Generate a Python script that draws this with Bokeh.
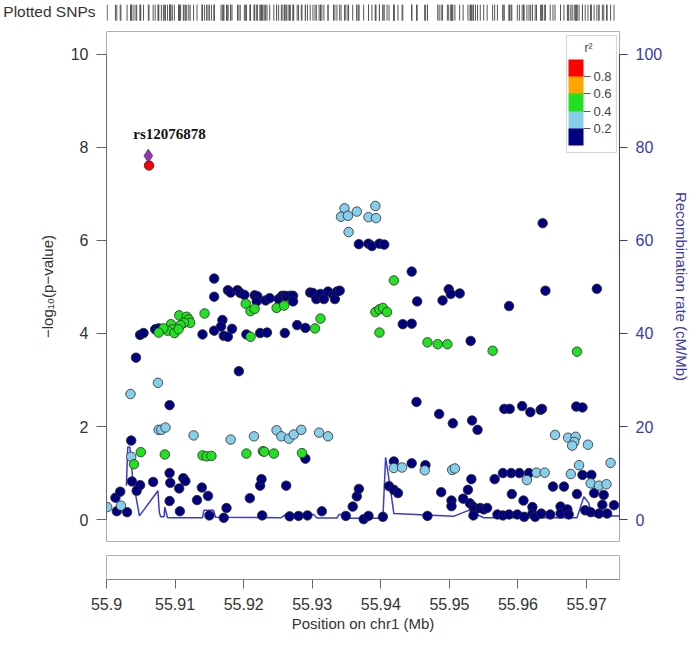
from bokeh.plotting import figure
from bokeh.layouts import column
from bokeh.models import (Range1d, LinearAxis, FixedTicker, ColorBar, LinearColorMapper,
                          ColumnDataSource, BoxAnnotation, Label)
from bokeh.embed import file_html
from bokeh.resources import INLINE
from bokeh.core.properties import value

# ---------------- data ----------------
INDEX_NAME = "rs12076878"
INDEX_POS = 55.9061
INDEX_LOGP = 7.82

R2_PALETTE = ["#000080", "#87CEEB", "#22E022", "#FFA500", "#FF0000"]
R2_TICKS = [0.2, 0.4, 0.6, 0.8]
# representative r2 for each LD class
R2_NAVY, R2_LBLUE, R2_GREEN, R2_RED = 0.1, 0.3, 0.5, 0.9

NAVY_POS = [
    55.9157, 55.9157, 55.9177, 55.9181, 55.9191, 55.9195, 55.9201, 55.9216, 55.9220, 55.9219,
    55.9232, 55.9238, 55.9251, 55.9256, 55.9260, 55.9263, 55.9268, 55.9272, 55.9272, 55.9297,
    55.9301, 55.9306, 55.9312, 55.9317, 55.9323, 55.9331, 55.9333, 55.9336, 55.9340,
    55.9368, 55.9382, 55.9387, 55.9398, 55.9405,
    55.9049, 55.9054, 55.9071, 55.9076, 55.9140, 55.9157, 55.9169, 55.9167, 55.9171, 55.9177,
    55.9183, 55.9204, 55.9224, 55.9234, 55.9260, 55.9278, 55.9290, 55.9043, 55.9193, 55.9092,
    55.9036, 55.9290,
    55.9445, 55.9453, 55.9432, 55.9445, 55.9490, 55.9499, 55.9502, 55.9515, 55.9531, 55.9587,
    55.9636, 55.9640, 55.9715, 55.9452, 55.9485, 55.9505, 55.9533, 55.9541, 55.9580, 55.9588,
    55.9606, 55.9618, 55.9633, 55.9635, 55.9685, 55.9694,
    55.9013, 55.9020, 55.9015, 55.9030, 55.9037, 55.9049, 55.9044, 55.9068, 55.9092, 55.9093,
    55.9092, 55.9106, 55.9112, 55.9115, 55.9107, 55.9139, 55.9132, 55.9148, 55.9150, 55.9171,
    55.9175, 55.9209, 55.9224, 55.9226, 55.9227, 55.9262, 55.9267, 55.9280, 55.9293, 55.9314,
    55.9349, 55.9359, 55.9365, 55.9368, 55.9375, 55.9382,
    55.9419, 55.9445, 55.9465, 55.9532, 55.9566, 55.9578, 55.9590, 55.9602, 55.9616, 55.9651,
    55.9667, 55.9694, 55.9707, 55.9711, 55.9725, 55.9686, 55.9591, 55.9608, 55.9621, 55.9412,
    55.9419, 55.9425, 55.9403, 55.9468, 55.9488, 55.9503, 55.9503, 55.9520, 55.9527, 55.9530,
    55.9535, 55.9538, 55.9545, 55.9550, 55.9555, 55.9535, 55.9570, 55.9578, 55.9587, 55.9599,
    55.9609, 55.9621, 55.9625, 55.9634, 55.9647, 55.9662, 55.9662, 55.9672, 55.9674, 55.9698,
    55.9706, 55.9718, 55.9723, 55.9730, 55.9740,
]
NAVY_LOGP = [
    5.18, 4.79, 4.93, 4.88, 4.93, 4.87, 4.83, 4.82, 4.80, 4.69,
    4.71, 4.76, 4.74, 4.81, 4.81, 4.80, 4.81, 4.81, 4.69, 4.88,
    4.87, 4.74, 4.85, 4.74, 4.90, 4.83, 4.74, 4.90, 4.92,
    5.92, 5.93, 5.88, 5.93, 5.91,
    3.97, 4.01, 4.09, 4.11, 3.98, 4.06, 4.29, 4.15, 3.95, 3.93,
    4.10, 3.98, 4.01, 4.02, 4.01, 4.18, 4.12, 3.48, 3.19, 2.46,
    1.70, 1.31,
    5.33, 4.69, 4.20, 4.21, 4.71, 4.95, 4.85, 4.86, 3.84, 4.59,
    6.37, 4.92, 4.96, 2.53, 2.27, 2.07, 2.13, 1.93, 2.38, 2.38,
    2.44, 2.31, 2.36, 2.38, 2.43, 2.41,
    0.47, 0.60, 0.18, 0.16, 0.82, 0.74, 0.62, 0.81, 1.00, 0.79,
    0.40, 0.67, 0.89, 0.83, 0.18, 0.69, 0.42, 0.51, 0.09, 0.04,
    0.25, 0.46, 0.73, 0.87, 0.09, 0.73, 0.07, 0.08, 0.09, 0.18,
    0.08, 0.28, 0.50, 0.66, 0.01, 0.08,
    1.25, 1.21, 1.17, 0.87, 0.87, 1.00, 1.00, 1.00, 1.00, 0.71,
    0.71, 0.96, 0.96, 0.57, 0.53, 0.55, 0.55, 0.41, 0.27, 0.72,
    0.64, 0.57, 0.06, 0.08, 0.59, 0.41, 0.29, 0.45, 0.64, 0.35,
    0.27, 0.22, 0.25, 0.22, 0.25, 0.09, 0.11, 0.09, 0.11, 0.11,
    0.06, 0.13, 0.06, 0.13, 0.11, 0.28, 0.13, 0.22, 0.11, 0.20,
    0.16, 0.13, 0.32, 0.13, 0.31,
]
LBLUE_POS = [
    55.9347, 55.9342, 55.9352, 55.9365, 55.9382, 55.9392, 55.9393, 55.9353, 55.9035, 55.9075,
    55.9076, 55.9080, 55.9086, 55.9127, 55.9181, 55.9215, 55.9248, 55.9255, 55.9266, 55.9273,
    55.9284, 55.9310, 55.9323, 55.9036, 55.9001, 55.9021, 55.9654, 55.9673, 55.9684, 55.9682,
    55.9679, 55.9702, 55.9689, 55.9735, 55.9419, 55.9431, 55.9464, 55.9504, 55.9508, 55.9627,
    55.9639, 55.9613, 55.9677, 55.9706, 55.9718, 55.9729,
]
LBLUE_LOGP = [
    6.69, 6.51, 6.53, 6.62, 6.50, 6.74, 6.48, 6.18, 2.70, 2.94,
    1.93, 1.93, 1.98, 1.81, 1.72, 1.79, 1.92, 1.79, 1.74, 1.83,
    1.93, 1.87, 1.79, 1.35, 0.27, 0.30, 1.82, 1.76, 1.78, 1.67,
    1.59, 1.61, 1.17, 1.22, 1.11, 1.12, 1.06, 1.07, 1.10, 1.01,
    1.01, 0.85, 0.98, 0.78, 0.73, 0.76,
]
GREEN_POS = [
    55.9419, 55.9392, 55.9398, 55.9403, 55.9409, 55.9398, 55.9468, 55.9483, 55.9497, 55.9563,
    55.9686, 55.9203, 55.9210, 55.9216, 55.9248, 55.9259, 55.9143, 55.9312, 55.9304, 55.9210,
    55.9106, 55.9117, 55.9120, 55.9122, 55.9113, 55.9108, 55.9094, 55.9096, 55.9089, 55.9083,
    55.9076, 55.9099, 55.9105, 55.9050, 55.9040, 55.9085, 55.9140, 55.9146, 55.9153, 55.9204,
    55.9228, 55.9230, 55.9244, 55.9285,
]
GREEN_LOGP = [
    5.14, 4.46, 4.52, 4.55, 4.46, 4.02, 3.81, 3.77, 3.77, 3.63,
    3.61, 4.64, 4.48, 4.53, 4.55, 4.60, 4.43, 4.32, 4.11, 3.93,
    4.39, 4.36, 4.30, 4.23, 4.23, 4.18, 4.20, 4.09, 4.06, 4.11,
    4.02, 4.01, 4.09, 1.45, 1.19, 1.40, 1.38, 1.36, 1.37, 1.42,
    1.47, 1.46, 1.42, 1.43,
]
RED_POS = [55.9062]
RED_LOGP = [7.61]

RECOMB_POS = [55.9029, 55.9031, 55.9034, 55.9038, 55.9048, 55.9075, 55.9077, 55.9079, 55.9084,
              55.9085, 55.9089, 55.9140, 55.9142, 55.9156, 55.9159, 55.9254, 55.9261, 55.9302,
              55.9307, 55.9336, 55.9339, 55.9346, 55.9349, 55.9403, 55.9407, 55.9413, 55.9419,
              55.9506, 55.9528, 55.9550, 55.9686, 55.9696, 55.9703, 55.9708, 55.9748]
RECOMB_RATE = [7.3, 15.6, 15.6, 9.1, 0.8, 6.2, 1.6, 0.6, 0.6,
               2.7, 0.4, 0.4, 2.0, 2.0, 0.5, 0.4, 1.1, 1.1,
               0.35, 0.35, 1.1, 1.1, 0.3, 0.3, 13.4, 7.6, 1.3,
               0.7, 2.0, 0.4, 0.4, 4.9, 3.6, 0.8, 0.8]

X_TICKS = [55.90, 55.91, 55.92, 55.93, 55.94, 55.95, 55.96, 55.97]
X_TICK_LABELS = ["55.9", "55.91", "55.92", "55.93", "55.94", "55.95", "55.96", "55.97"]
Y_TICKS = [0, 2, 4, 6, 8, 10]
RECOMB_TICKS = [0, 20, 40, 60, 80, 100]

# ---------------- styling ----------------
FONT = "Liberation Sans"
TXT = "#333333"
BLUE = "#3a3aa8"
LEFT_B = 98
RIGHT_B = 78
FRAME_W = 513
MAIN_H = 510
x_range = Range1d(55.9, 55.9748)

# ---------------- rug of plotted SNPs ----------------
all_pos = NAVY_POS + LBLUE_POS + GREEN_POS + RED_POS + [INDEX_POS]
rug = figure(frame_width=FRAME_W, frame_height=28, x_range=x_range, y_range=Range1d(0, 1),
             x_axis_location=None, y_axis_location=None, output_backend="svg",
             toolbar_location=None, min_border_left=LEFT_B, min_border_right=RIGHT_B,
             min_border_top=0, min_border_bottom=0, outline_line_color=None)
rug.grid.visible = False
rug.segment(x0=all_pos, y0=0.28, x1=all_pos, y1=0.85, line_color="#555555", line_width=1)
rug_ax = LinearAxis(ticker=FixedTicker(ticks=[0.6]), major_label_overrides={0.6: "Plotted SNPs"},
                    axis_line_color=None, major_tick_line_color=None, minor_tick_line_color=None,
                    major_label_text_font=FONT, major_label_text_font_size="15.5px",
                    major_label_text_color=TXT, major_label_standoff=5)
rug.add_layout(rug_ax, "left")

# ---------------- main panel ----------------
mapper = LinearColorMapper(palette=R2_PALETTE, low=0, high=1)

main = figure(frame_width=FRAME_W, frame_height=MAIN_H, x_range=x_range,
              y_range=Range1d(-0.47, 10.49), x_axis_location=None, y_axis_location=None,
              output_backend="svg", toolbar_location=None, min_border_left=LEFT_B,
              min_border_right=RIGHT_B, min_border_top=3, min_border_bottom=14,
              outline_line_color="#b0b0b0", outline_line_width=1)
main.grid.visible = False
main.extra_y_ranges = {"recomb": Range1d(-4.7, 104.9)}

left = LinearAxis(ticker=FixedTicker(ticks=Y_TICKS), bounds=(0, 10),
                  axis_label="−log₁₀(p−value)", axis_label_text_font=FONT,
                  axis_label_text_font_size="15px", axis_label_text_font_style="normal",
                  axis_label_text_color=TXT, axis_label_standoff=12,
                  major_label_text_font=FONT, major_label_text_font_size="16px",
                  major_label_text_color=TXT, major_label_standoff=8,
                  major_tick_in=0, major_tick_out=10, minor_tick_line_color=None,
                  axis_line_color="#666666", major_tick_line_color="#666666")
main.add_layout(left, "left")

right = LinearAxis(y_range_name="recomb", ticker=FixedTicker(ticks=RECOMB_TICKS), bounds=(0, 100),
                   axis_label="Recombination rate (cM/Mb)", axis_label_text_font=FONT,
                   axis_label_text_font_size="15px", axis_label_text_font_style="normal",
                   axis_label_text_color=BLUE, axis_label_standoff=8,
                   major_label_text_font=FONT, major_label_text_font_size="16px",
                   major_label_text_color=BLUE, major_label_standoff=8,
                   major_tick_in=0, major_tick_out=8, minor_tick_line_color=None,
                   axis_line_color=BLUE, major_tick_line_color=BLUE)
main.add_layout(right, "right")

main.line(RECOMB_POS, RECOMB_RATE, y_range_name="recomb", line_color="#3b3bd0", line_width=1.5)

pos = NAVY_POS + LBLUE_POS + GREEN_POS + RED_POS
logp = NAVY_LOGP + LBLUE_LOGP + GREEN_LOGP + RED_LOGP
r2 = ([R2_NAVY] * len(NAVY_POS) + [R2_LBLUE] * len(LBLUE_POS) +
      [R2_GREEN] * len(GREEN_POS) + [R2_RED] * len(RED_POS))
src = ColumnDataSource(dict(pos=pos, logp=logp, r2=r2))
main.scatter("pos", "logp", source=src, size=9.5,
             fill_color={"field": "r2", "transform": mapper},
             line_color="#2a2a2a", line_width=0.8)

main.scatter([INDEX_POS], [INDEX_LOGP], marker="diamond", size=13,
             fill_color="#9632B8", line_color="#4a2a6a", line_width=0.8)
main.text(x=[INDEX_POS], y=[INDEX_LOGP], text=[INDEX_NAME], text_font=value("Liberation Serif"),
          text_font_style="bold", text_font_size="15px", text_color="#111111",
          x_offset=-15, y_offset=-22, text_align="left", text_baseline="middle")

# r2 legend (frame-relative screen units, measured from the frame's bottom-left)
legend_box = BoxAnnotation(left=460, right=510, top=MAIN_H - 4, bottom=MAIN_H - 121,
                           left_units="screen", right_units="screen",
                           top_units="screen", bottom_units="screen",
                           fill_color="white", fill_alpha=1.0,
                           line_color="#777777", line_width=1.2)
main.add_layout(legend_box)
cb = ColorBar(color_mapper=mapper, ticker=FixedTicker(ticks=R2_TICKS),
              location=(457, MAIN_H - 28 - 86 - 5), width=15, height=86, margin=0, padding=5,
              major_label_text_font=FONT, major_label_text_font_size="13px",
              major_label_text_color="#444444", label_standoff=3,
              major_tick_in=0, major_tick_out=7, major_tick_line_color="#555555",
              bar_line_color=None, border_line_color=None, background_fill_color=None)
main.add_layout(cb)
r2_title = Label(x=482, y=MAIN_H - 16, x_units="screen", y_units="screen", text="r²",
                 text_font=FONT, text_font_size="12px", text_color="#444444",
                 text_align="center", text_baseline="middle")
main.add_layout(r2_title)

# ---------------- gene track with x axis ----------------
gene = figure(frame_width=FRAME_W, frame_height=24, x_range=x_range, y_range=Range1d(0, 1),
              x_axis_location="below", y_axis_location=None, output_backend="svg",
              toolbar_location=None, min_border_left=LEFT_B, min_border_right=RIGHT_B,
              min_border_top=0, min_border_bottom=0, outline_line_color="#b0b0b0")
gene.grid.visible = False
gx = gene.xaxis[0]
gx.ticker = FixedTicker(ticks=X_TICKS)
gx.major_label_overrides = dict(zip(X_TICKS, X_TICK_LABELS))
gx.axis_label = "Position on chr1 (Mb)"
gx.axis_label_text_font = FONT
gx.axis_label_text_font_size = "15px"
gx.axis_label_text_font_style = "normal"
gx.axis_label_text_color = TXT
gx.axis_label_standoff = 2
gx.major_label_text_font = FONT
gx.major_label_text_font_size = "16px"
gx.major_label_text_color = TXT
gx.major_label_standoff = 9
gx.major_tick_in = 0
gx.major_tick_out = 9
gx.minor_tick_line_color = None
gx.axis_line_color = "#888888"
gx.major_tick_line_color = "#666666"

layout = column(rug, main, gene, spacing=0)
open("out.html", "w").write(file_html(layout, INLINE))
